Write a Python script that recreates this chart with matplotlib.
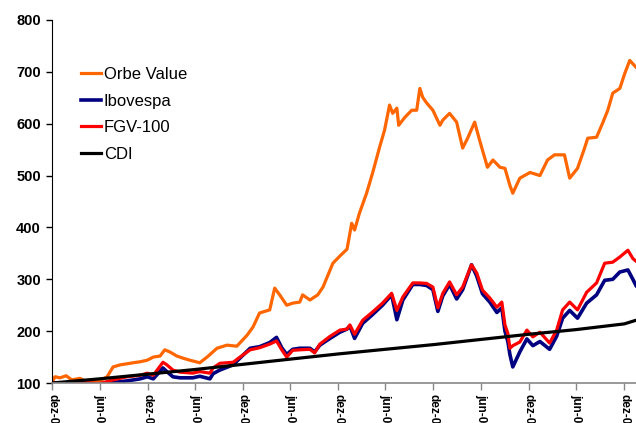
import numpy as np
import pandas as pd
import matplotlib
matplotlib.use('Agg')
import matplotlib.pyplot as plt
import matplotlib.dates as mdates

plt.rcParams['font.family'] = ['Liberation Sans', 'DejaVu Sans']

# Orbe Value
orbe_dates = ['2003-12-31', '2004-01-11', '2004-01-31', '2004-02-23', '2004-03-16', '2004-04-16',
              '2004-05-05', '2004-05-24', '2004-07-01', '2004-07-29', '2004-08-21', '2004-09-17',
              '2004-11-06', '2004-12-03', '2004-12-30', '2005-01-22', '2005-02-17', '2005-03-07',
              '2005-03-26', '2005-04-22', '2005-05-15', '2005-06-11', '2005-07-19', '2005-08-16',
              '2005-09-23', '2005-10-31', '2005-12-08', '2006-01-16', '2006-02-08', '2006-03-05',
              '2006-04-13', '2006-05-02', '2006-05-21', '2006-06-17', '2006-07-10', '2006-08-06',
              '2006-08-17', '2006-09-14', '2006-10-14', '2006-11-03', '2006-12-11', '2007-01-07',
              '2007-02-03', '2007-02-21', '2007-03-04', '2007-03-23', '2007-04-19', '2007-05-12',
              '2007-06-08', '2007-06-27', '2007-07-16', '2007-07-28', '2007-08-13', '2007-08-20',
              '2007-09-12', '2007-10-09', '2007-10-28', '2007-11-09', '2007-11-20', '2007-12-05',
              '2007-12-29', '2008-01-25', '2008-02-05', '2008-03-02', '2008-03-29', '2008-04-21',
              '2008-05-10', '2008-06-06', '2008-06-25', '2008-07-25', '2008-08-15', '2008-09-11',
              '2008-09-30', '2008-10-19', '2008-10-30', '2008-11-26', '2009-01-04', '2009-02-11',
              '2009-03-12', '2009-04-08', '2009-05-16', '2009-06-05', '2009-07-05', '2009-08-01',
              '2009-08-13', '2009-09-16', '2009-10-09', '2009-10-29', '2009-11-17', '2009-12-14',
              '2010-01-02', '2010-01-21', '2010-02-14']
orbe_vals = [100, 112, 110, 114, 106, 109,
             104, 102, 104, 112, 131, 135,
             139, 141, 144, 150, 152, 164,
             160, 152, 148, 144, 139, 150,
             167, 173, 171, 192, 208, 235,
             241, 283, 270, 250, 254, 256,
             270, 260, 270, 285, 331, 345,
             358, 408, 395, 428, 466, 505,
             555, 588, 636, 620, 630, 597,
             612, 626, 626, 668, 651, 640,
             626, 597, 607, 620, 603, 553,
             572, 603, 568, 516, 530, 516,
             514, 481, 466, 495, 506, 500,
             530, 540, 540, 495, 514, 553,
             572, 574, 601, 626, 659, 668,
             697, 722, 709]

# FGV-100 and Ibovespa (same dates)
idx_dates = ['2003-12-31', '2004-03-08', '2004-04-28', '2004-07-01', '2004-08-21', '2004-10-13',
             '2004-12-03', '2004-12-30', '2005-01-22', '2005-02-28', '2005-03-15', '2005-04-07',
             '2005-05-04', '2005-06-22', '2005-07-19', '2005-08-27', '2005-09-08', '2005-10-04',
             '2005-11-24', '2005-12-20', '2006-01-28', '2006-03-05', '2006-04-13', '2006-05-09',
             '2006-05-29', '2006-06-17', '2006-07-10', '2006-08-06', '2006-09-14', '2006-10-02',
             '2006-10-22', '2006-11-30', '2007-01-07', '2007-02-03', '2007-02-14', '2007-03-04',
             '2007-04-04', '2007-05-12', '2007-06-19', '2007-07-24', '2007-08-13', '2007-09-05',
             '2007-10-13', '2007-11-09', '2007-12-05', '2007-12-29', '2008-01-17', '2008-02-05',
             '2008-03-02', '2008-03-29', '2008-04-21', '2008-05-25', '2008-06-14', '2008-07-06',
             '2008-08-03', '2008-08-30', '2008-09-18', '2008-09-30', '2008-10-11', '2008-10-19',
             '2008-10-30', '2008-11-26', '2008-12-23', '2009-01-15', '2009-02-11', '2009-03-20',
             '2009-04-16', '2009-05-09', '2009-06-05', '2009-07-05', '2009-08-09', '2009-09-16',
             '2009-10-17', '2009-11-17', '2009-12-14', '2010-01-14', '2010-02-02', '2010-02-14']
fgv_vals = [100, 100, 101, 99, 106, 112,
            115, 119, 115, 140, 135, 125,
            121, 119, 122, 119, 129, 138,
            140, 150, 164, 168, 175, 181,
            164, 150, 163, 164, 165, 158,
            175, 190, 202, 204, 212, 194,
            221, 237, 254, 273, 240, 266,
            293, 293, 292, 285, 245, 273,
            295, 270, 285, 328, 312, 279,
            264, 246, 256, 212, 196, 167,
            172, 179, 202, 189, 198, 177,
            202, 241, 256, 241, 275, 293,
            331, 333, 343, 356, 340, 335]
ibov_vals = [100, 99, 98, 97, 101, 104,
             108, 112, 108, 129, 122, 112,
             110, 110, 113, 108, 118, 125,
             135, 148, 167, 170, 178, 188,
             168, 155, 165, 167, 167, 160,
             173, 186, 198, 204, 210, 186,
             215, 232, 250, 270, 222, 260,
             290, 290, 288, 280, 238, 268,
             290, 262, 280, 328, 306, 272,
             256, 236, 245, 200, 180, 155,
             131, 160, 185, 172, 180, 165,
             190, 225, 240, 225, 254, 270,
             298, 300, 314, 318, 300, 288]

# CDI
cdi_dates = ['2003-12-31', '2004-06-30', '2004-12-31', '2005-06-30', '2005-12-31', '2006-06-30',
             '2006-12-31', '2007-06-30', '2007-12-31', '2008-06-30', '2008-12-31', '2009-06-30',
             '2009-12-31', '2010-02-14']
cdi_vals = [100, 108, 117, 126, 136, 146, 156, 165, 174, 184, 194, 203, 214, 221]

tick_dates = pd.date_range('2003-12-31', '2009-12-31', freq='6ME')
month_pt = {6: 'jun', 12: 'dez'}
tick_labels = [f"{month_pt[d.month]}-{d.strftime('%y')}" for d in tick_dates]

W, H = 636, 423
fig = plt.figure(figsize=(W / 100, H / 100), dpi=100)
ax = fig.add_axes([52 / W, (H - 383) / H, (W - 52) / W, (383 - 20) / H])

lw = 2.3
ax.plot(pd.to_datetime(orbe_dates), orbe_vals, color='#FF6600', lw=lw, label='Orbe Value')
ax.plot(pd.to_datetime(idx_dates), ibov_vals, color='#000080', lw=lw + 0.3, label='Ibovespa')
ax.plot(pd.to_datetime(idx_dates), fgv_vals, color='#FF0000', lw=lw, label='FGV-100')
ax.plot(pd.to_datetime(cdi_dates), cdi_vals, color='black', lw=lw, label='CDI')

ax.set_xlim(pd.Timestamp('2003-12-31'), pd.Timestamp('2010-02-14'))
ax.set_ylim(100, 800)
ax.set_yticks(range(100, 801, 100))
ax.set_xticks(tick_dates)
ax.set_xticklabels(tick_labels, rotation=270, fontsize=8.5, fontweight='bold')
for lab in ax.get_yticklabels():
    lab.set_fontweight('bold')
    lab.set_fontsize(10.5)

ax.spines['top'].set_visible(False)
ax.spines['right'].set_visible(False)
ax.spines['left'].set_color('black')
ax.spines['bottom'].set_color('#888888')
ax.spines['bottom'].set_linewidth(1.2)
ax.tick_params(axis='y', direction='out', length=4, width=1, pad=4)
ax.tick_params(axis='x', direction='out', length=5, width=1, color='#888888', pad=3)

leg = ax.legend(loc='upper left', bbox_to_anchor=(73 / W, 1 - 59 / H),
                bbox_transform=fig.transFigure, frameon=False, fontsize=12,
                handlelength=1.2, handletextpad=0.15, labelspacing=0.69, borderpad=0)

fig.savefig('out.png', dpi=100)
